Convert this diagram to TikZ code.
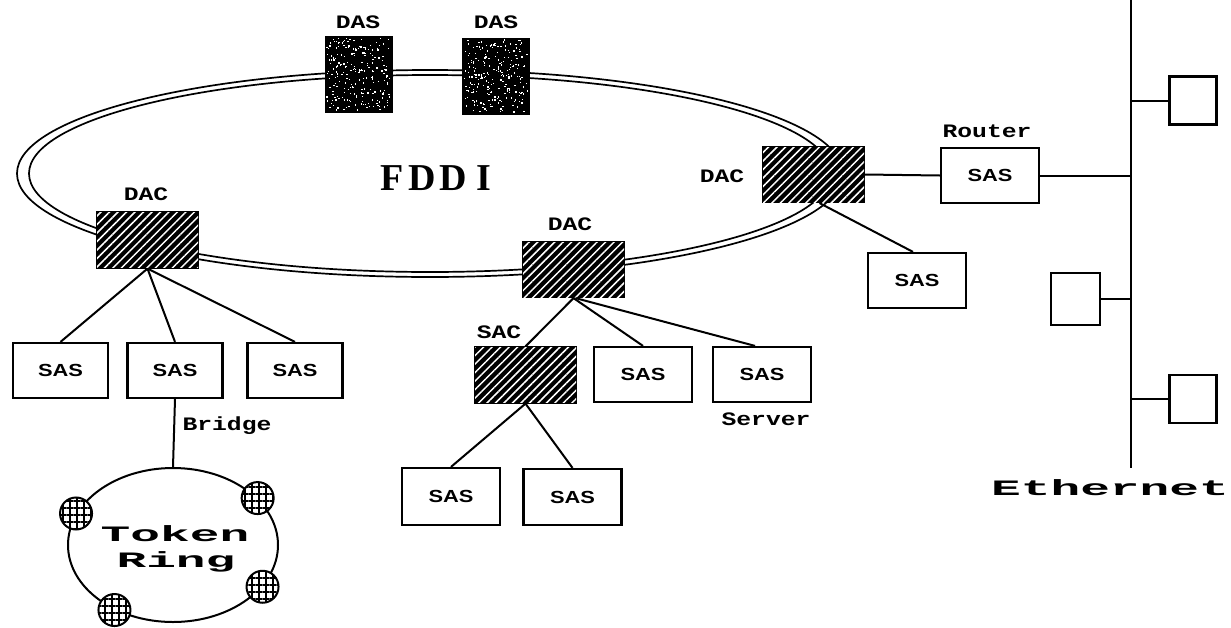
\documentclass[tikz,border=0pt]{standalone}
\usepackage{fontspec}
\setmainfont{Liberation Sans}
\newfontfamily\labfont{Liberation Mono}
\newfontfamily\titlefont{Liberation Serif}
\usetikzlibrary{shapes.geometric,patterns.meta,calc}

% stretched label faces
\newcommand\tagtxt[1]{\scalebox{1.3}[1]{\labfont\bfseries\fontsize{19}{19}\selectfont #1}}
\newcommand\bigtxt[1]{\scalebox{2.25}[1]{\labfont\bfseries\fontsize{22}{22}\selectfont #1}}
\newcommand\boxtxt[1]{\scalebox{1.25}[1]{\bfseries\fontsize{17.5}{17.5}\selectfont #1}}

\tikzset{
  link/.style={line width=2pt},
  ringline/.style={line width=1.7pt},
  plainbox/.style={draw, line width=2.2pt, fill=white, minimum width=98pt,
    minimum height=55pt, inner sep=0pt},
  hatchbox/.style={draw, line width=2.2pt, fill=black, minimum width=101pt,
    minimum height=55pt, inner sep=0pt,
    postaction={pattern={Lines[angle=45,distance=6pt,line width=1.5pt]},
      pattern color=white}},
  dasbox/.style={fill=black, minimum width=68pt, minimum height=77pt, inner sep=0pt},
  ethbox/.style={draw, line width=2.2pt, fill=white, minimum width=47pt,
    minimum height=48pt, inner sep=0pt},
  station/.style={circle, draw, line width=2pt, fill=white, minimum size=32pt,
    inner sep=0pt,
    postaction={pattern={Lines[angle=0,distance=7pt,line width=2pt]}},
    postaction={pattern={Lines[angle=90,distance=7pt,line width=2pt]}}},
  tag/.style={inner sep=0pt, anchor=base},
}

\begin{document}
\begin{tikzpicture}[x=1pt,y=-1pt]
\useasboundingbox[fill=white] (0,0) rectangle (1231,627);

% FDDI dual ring
\draw[ringline] (430,173.5) ellipse [x radius=413, y radius=103.5];
\draw[ringline] (430,173.5) ellipse [x radius=401, y radius=98.5];
\node[inner sep=0pt] (fddi) at (436,178)
  {\titlefont\bfseries\fontsize{38}{38}\selectfont F\hspace{5pt}D\hspace{3pt}D\hspace{10pt}I};

% stations on the ring
\node[dasbox] (dasL) at (358.5,74) {};
\node[dasbox] (dasR) at (496,76) {};
\node[hatchbox] (dacL) at (147.5,240) {};
\node[hatchbox] (dacM) at (573.5,269.5) {};
\node[hatchbox] (dacR) at (813.5,174.5) {};

% speckled surface of the dual-attached stations
\pgfmathsetseed{7}
\foreach \n in {dasL,dasR}{
  \foreach \k in {1,...,230}{
    \fill[white] ($(\n.north west)+({2+rnd*63},{2+rnd*72})$) rectangle +(1.3,1.3);
  }
}

% attached stations
\node[hatchbox] (sac) at (525.5,375) {};
\node[plainbox] (router) at (990,175.5) {\boxtxt{SAS}};
\node[plainbox] (sasR) at (917,280.5) {\boxtxt{SAS}};
\node[plainbox, minimum width=95pt] (sas1) at (60.5,370.5) {\boxtxt{SAS}};
\node[plainbox, minimum width=95pt] (sas2) at (175,370.5) {\boxtxt{SAS}};
\node[plainbox, minimum width=95pt] (sas3) at (295,370.5) {\boxtxt{SAS}};
\node[plainbox] (sasM) at (643,374.5) {\boxtxt{SAS}};
\node[plainbox] (server) at (762,374.5) {\boxtxt{SAS}};
\node[plainbox, minimum height=57pt] (sasB1) at (451,496.5) {\boxtxt{SAS}};
\node[plainbox, minimum height=56pt] (sasB2) at (572.5,497) {\boxtxt{SAS}};

% Ethernet segment
\coordinate (busT) at (1131,0);
\coordinate (busB) at (1131,468);
\node[ethbox] (eth1) at (1193,100.5) {};
\node[ethbox, minimum width=49pt, minimum height=52pt] (eth2) at (1075.5,299) {};
\node[ethbox] (eth3) at (1193,399) {};

% Token Ring
\node[ellipse, draw, line width=2pt, minimum width=210pt, minimum height=154pt,
  inner sep=0pt] (tr) at (173,545) {};
\node[station] (st1) at (tr.162) {};
\node[station] (st2) at (tr.29) {};
\node[station] (st3) at (tr.335) {};
\node[station] (st4) at (tr.228) {};

% connectors
\draw[link] (dacL.south) -- (sas1.north);
\draw[link] (dacL.south) -- (sas2.north);
\draw[link] (dacL.south) -- (sas3.north);
\draw[link] (sas2.south) -- (tr.north);
\draw[link] (dacM.south) -- (sac.north);
\draw[link] (dacM.south) -- (sasM.north);
\draw[link] ([xshift=2pt]dacM.south) -- ([xshift=-7pt]server.north);
\draw[link] (sac.south) -- (sasB1.north);
\draw[link] (sac.south) -- (sasB2.north);
\draw[link] ([xshift=6pt]dacR.south) -- ([xshift=-4pt]sasR.north);
\draw[link] (dacR.east) -- (router.west);
\draw[link] (router.east) -- (router.east -| busT);
\draw[link] (busT) -- (busB);
\draw[link] (eth1.west) -- (eth1.west -| busT);
\draw[link] (eth2.east) -- (eth2.east -| busT);
\draw[link] (eth3.west) -- (eth3.west -| busT);

% labels
\node[tag] (tDasL) at (358,28) {\tagtxt{DAS}};
\node[tag] (tDasR) at (496,28) {\tagtxt{DAS}};
\node[tag] (tDacL) at (146,200.5) {\tagtxt{DAC}};
\node[tag] (tDacM) at (570,230.5) {\tagtxt{DAC}};
\node[tag] (tDacR) at (722,182.5) {\tagtxt{DAC}};
\node[tag] (tRouter) at (987,137) {\tagtxt{Router}};
\node[tag] (tSac) at (499,338.5) {\tagtxt{SAC}};
\node[tag] (tServer) at (766,425.5) {\tagtxt{Server}};
\node[tag] (tBridge) at (227,430) {\tagtxt{Bridge}};
\node[tag] (tToken) at (175,541) {\bigtxt{Token}};
\node[tag] (tRing) at (176,567) {\bigtxt{Ring}};
\node[tag] (tEther) at (1110,495) {\bigtxt{Ethernet}};
\end{tikzpicture}
\end{document}
